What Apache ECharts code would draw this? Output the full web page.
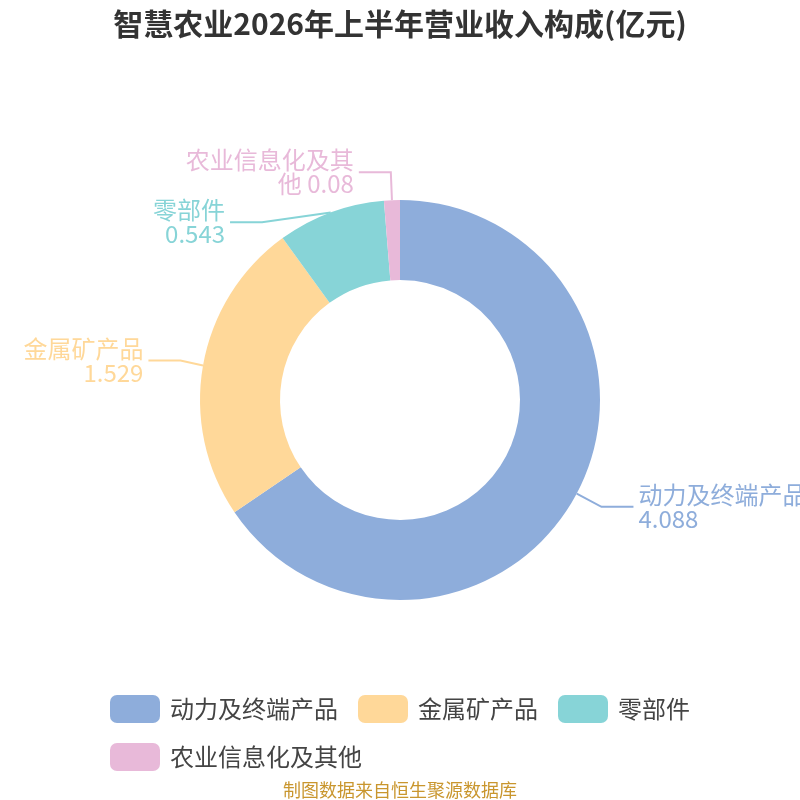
<!DOCTYPE html>
<html>
<head>
<meta charset="utf-8">
<script src="https://cdn.jsdelivr.net/npm/echarts@6/dist/echarts.min.js"></script>
<style>html,body{margin:0;padding:0;background:#fff;}#c{width:800px;height:800px;}</style>
</head>
<body>
<div id="c"></div>
<script>
const categories = ['动力及终端产品', '金属矿产品', '零部件', '农业信息化及其他'];
const values = [4.088, 1.529, 0.543, 0.08];
const colors = ['#8EADDB', '#FFD899', '#87D4D7', '#E8B9D9'];
const titleText = '智慧农业2026年上半年营业收入构成(亿元)';
const sourceText = '制图数据来自恒生聚源数据库';

const FONT = '"Noto Sans CJK SC", "Noto Sans", sans-serif';

const chart = echarts.init(document.getElementById('c'));
chart.setOption({
  backgroundColor: '#fff',
  color: colors,
  title: [{
    text: titleText,
    left: 'center',
    top: 4,
    textStyle: { fontFamily: FONT, fontSize: 30, fontWeight: 'bold', color: '#333' }
  }, {
    text: sourceText,
    left: 'center',
    top: 776,
    textStyle: { fontFamily: FONT, fontSize: 18, fontWeight: 'normal', color: '#C9962E' }
  }],
  legend: {
    left: 'center',
    top: 690,
    itemWidth: 50,
    itemHeight: 28,
    itemGap: 20,
    icon: 'roundRect',
    textStyle: { fontFamily: FONT, fontSize: 24, color: '#444', padding: [0, 0, 0, 5] },
    data: categories
  },
  series: [{
    type: 'pie',
    center: ['50%', '50%'],
    radius: ['30%', '50%'],
    startAngle: 90,
    clockwise: true,
    avoidLabelOverlap: true,
    label: {
      show: true,
      formatter: p => p.name.length > 7 ? p.name + ' ' + p.value : p.name + '\n' + p.value,
      fontFamily: FONT,
      fontSize: 24,
      lineHeight: 24,
      overflow: 'break',
      width: 170,
      color: 'inherit'
    },
    labelLine: { show: true, length: 28, length2: 32, lineStyle: { width: 2 } },
    data: categories.map((n, i) => ({
      name: n,
      value: values[i],
      label: { color: colors[i] }
    }))
  }]
});
</script>
</body>
</html>
